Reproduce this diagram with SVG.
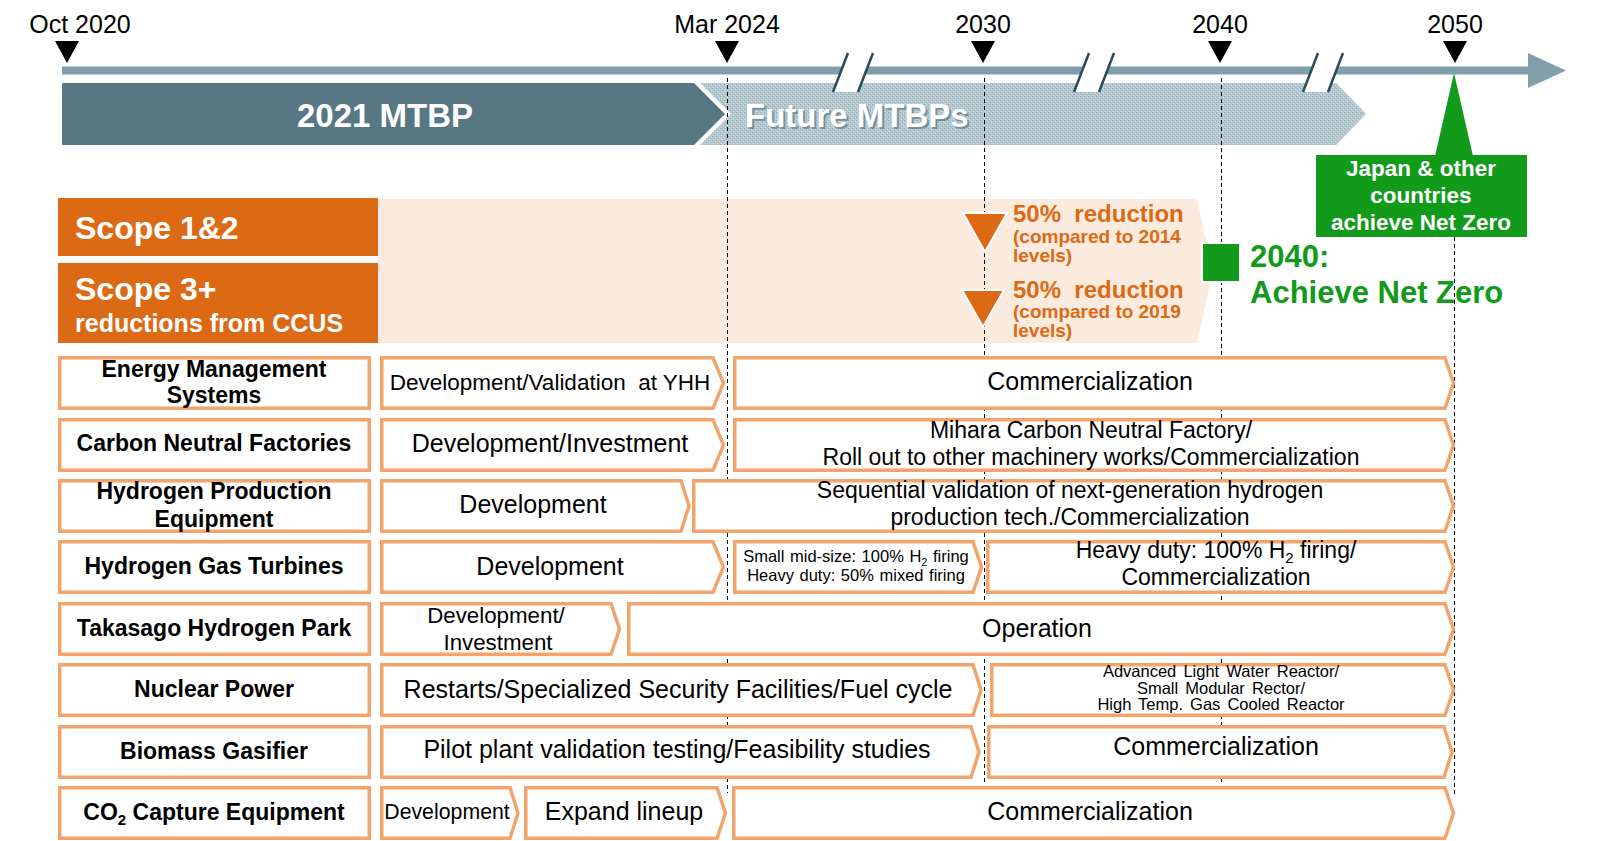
<svg xmlns="http://www.w3.org/2000/svg" width="1601" height="841" viewBox="0 0 1601 841">
<defs>
<pattern id="dots" width="4" height="4" patternUnits="userSpaceOnUse">
<rect width="4" height="4" fill="#B5C8CF"/>
<rect x="0" y="0" width="1" height="1" fill="#95ADB7"/>
<rect x="2" y="2" width="1" height="1" fill="#95ADB7"/>
<rect x="1" y="3" width="1" height="1" fill="#CFDCE1"/>
<rect x="3" y="1" width="1" height="1" fill="#CFDCE1"/>
</pattern>
<style>
text{font-family:"Liberation Sans",Arial,sans-serif;}
.tl{font-size:25px;fill:#000;text-anchor:middle;}
.tri{fill:#000;}
.guide{stroke:#000;stroke-width:1;stroke-dasharray:4 3;fill:none;}
.lab{fill:#fff;stroke:#F2A46C;stroke-width:3.5;}
.chev{fill:#fff;stroke:#F2A46C;stroke-width:3.5;stroke-linejoin:miter;}
.lt{font-size:23px;font-weight:bold;fill:#000;text-anchor:middle;}
.ct{font-size:25px;fill:#000;text-anchor:middle;}
.ct23{font-size:23px;fill:#000;text-anchor:middle;}
.cs{font-size:16.5px;fill:#000;text-anchor:middle;}
.brk{fill:#fff;stroke:none;}
.brkl{stroke:#2C4B57;stroke-width:2.5;}
.org{fill:#DC6A14;}
.ot{fill:#DC6A14;font-weight:bold;}
.grn{fill:#129A1B;}
.gt{fill:#129A1B;font-weight:bold;font-size:31px;}
.wt{fill:#fff;font-weight:bold;}
</style>
</defs>
<rect width="1601" height="841" fill="#fff"/>

<g id="timeline">
<rect x="62" y="66.5" width="1468" height="8" fill="#819FAA"/>
<polygon points="1528,53 1566,70.5 1528,88" fill="#819FAA"/>
</g>

<g id="mtbp-2021">
<polygon points="62,83 694,83 725,114 694,145 62,145" fill="#587784"/>
<text x="385" y="127" class="wt" font-size="33" text-anchor="middle">2021 MTBP</text>
</g>

<g id="mtbp-future">
<polygon points="700,83 1336,83 1366,114 1336,145 700,145 731,114" fill="url(#dots)"/>
<text x="747" y="129" font-size="33" font-weight="bold" fill="#6E8791" opacity="0.85">Future MTBPs</text>
<text x="745" y="127" class="wt" font-size="33">Future MTBPs</text>
</g>

<g id="breaks">
<polygon class="brk" points="848,53 873,53 858,92 833,92"/>
<line class="brkl" x1="848" y1="53" x2="833" y2="92"/>
<line class="brkl" x1="873" y1="53" x2="858" y2="92"/>
<polygon class="brk" points="1089,53 1114,53 1099,92 1074,92"/>
<line class="brkl" x1="1089" y1="53" x2="1074" y2="92"/>
<line class="brkl" x1="1114" y1="53" x2="1099" y2="92"/>
<polygon class="brk" points="1318,53 1343,53 1328,92 1303,92"/>
<line class="brkl" x1="1318" y1="53" x2="1303" y2="92"/>
<line class="brkl" x1="1343" y1="53" x2="1328" y2="92"/>
</g>

<g id="milestones">
<text class="tl" x="80" y="33">Oct 2020</text>
<polygon class="tri" points="55,41 79,41 67,63"/>
<text class="tl" x="727" y="33">Mar 2024</text>
<polygon class="tri" points="715,41 739,41 727,63"/>
<text class="tl" x="983" y="33">2030</text>
<polygon class="tri" points="971,41 995,41 983,63"/>
<text class="tl" x="1220" y="33">2040</text>
<polygon class="tri" points="1208,41 1232,41 1220,63"/>
<text class="tl" x="1455" y="33">2050</text>
<polygon class="tri" points="1443,41 1467,41 1455,63"/>
</g>

<g id="scope-band">
<polygon points="378,199 1197,199 1213,271 1197,343 378,343" fill="#FBEBDF"/>
</g>

<g id="connectors">
<line class="guide" x1="727.5" y1="78" x2="727.5" y2="793"/>
<line class="guide" x1="984.5" y1="78" x2="984.5" y2="783"/>
<line class="guide" x1="1221.5" y1="78" x2="1221.5" y2="783"/>
<line class="guide" x1="1454.5" y1="237" x2="1454.5" y2="797"/>
</g>

<g id="scope12">
<rect x="58" y="198" width="320" height="58" class="org"/>
<text x="75" y="239" class="wt" font-size="32">Scope 1&amp;2</text>
</g>
<g id="scope3">
<rect x="58" y="263" width="320" height="80" class="org"/>
<text x="75" y="300" class="wt" font-size="32">Scope 3+</text>
<text x="75" y="332" class="wt" font-size="25">reductions from CCUS</text>
</g>

<g id="target-2030-scope12">
<polygon points="963,213 1007,213 985,252" class="org" stroke="#fff" stroke-width="2"/>
<text x="1013" y="222" class="ot" font-size="24" xml:space="preserve">50%  reduction</text>
<text x="1013" y="243" class="ot" font-size="19">(compared to 2014</text>
<text x="1013" y="262" class="ot" font-size="19">levels)</text>
</g>
<g id="target-2030-scope3">
<polygon points="962,290 1004,290 983,327" class="org" stroke="#fff" stroke-width="2"/>
<text x="1013" y="298" class="ot" font-size="24" xml:space="preserve">50%  reduction</text>
<text x="1013" y="318" class="ot" font-size="19">(compared to 2019</text>
<text x="1013" y="337" class="ot" font-size="19">levels)</text>
</g>

<g id="target-2040">
<rect x="1202" y="243" width="38" height="39" class="grn" stroke="#fff" stroke-width="2"/>
<text x="1250" y="267" class="gt">2040:</text>
<text x="1250" y="303" class="gt">Achieve Net Zero</text>
</g>

<g id="target-2050">
<polygon points="1454,73 1473,156 1435,156" class="grn"/>
<rect x="1316" y="155" width="211" height="82" class="grn"/>
<text x="1421" y="176" class="wt" font-size="22.5" text-anchor="middle">Japan &amp; other</text>
<text x="1421" y="203" class="wt" font-size="22.5" text-anchor="middle">countries</text>
<text x="1421" y="230" class="wt" font-size="22.5" text-anchor="middle">achieve Net Zero</text>
</g>

<g id="row-ems">
<rect class="lab" x="59.75" y="357.75" width="309.5" height="50.5"/>
<text class="lt" x="214" y="377">Energy Management</text>
<text class="lt" x="214" y="403">Systems</text>
<polygon class="chev" points="381.75,357.75 713,357.75 723.5,383 713,408.25 381.75,408.25"/>
<text class="ct" x="550" y="390" style="font-size:22.5px" xml:space="preserve">Development/Validation  at YHH</text>
<polygon class="chev" points="734.75,357.75 1445,357.75 1453.5,383 1445,408.25 734.75,408.25"/>
<text class="ct" x="1090" y="390">Commercialization</text>
</g>

<g id="row-cnf">
<rect class="lab" x="59.75" y="419.75" width="309.5" height="50.5"/>
<text class="lt" x="214" y="451">Carbon Neutral Factories</text>
<polygon class="chev" points="381.75,419.75 713,419.75 723.5,445 713,470.25 381.75,470.25"/>
<text class="ct" x="550" y="452">Development/Investment</text>
<polygon class="chev" points="734.75,419.75 1445,419.75 1453.5,445 1445,470.25 734.75,470.25"/>
<text class="ct23" x="1091" y="438">Mihara Carbon Neutral Factory/</text>
<text class="ct23" x="1091" y="465">Roll out to other machinery works/Commercialization</text>
</g>

<g id="row-hpe">
<rect class="lab" x="59.75" y="480.75" width="309.5" height="50.5"/>
<text class="lt" x="214" y="499">Hydrogen Production</text>
<text class="lt" x="214" y="527">Equipment</text>
<polygon class="chev" points="381.75,480.75 681,480.75 689,506 681,531.25 381.75,531.25"/>
<text class="ct" x="533" y="513">Development</text>
<polygon class="chev" points="693.75,480.75 1445,480.75 1453.5,506 1445,531.25 693.75,531.25"/>
<text class="ct23" x="1070" y="498">Sequential validation of next-generation hydrogen</text>
<text class="ct23" x="1070" y="525">production tech./Commercialization</text>
</g>

<g id="row-hgt">
<rect class="lab" x="59.75" y="541.75" width="309.5" height="50.5"/>
<text class="lt" x="214" y="574">Hydrogen Gas Turbines</text>
<polygon class="chev" points="381.75,541.75 713,541.75 723.5,567 713,592.25 381.75,592.25"/>
<text class="ct" x="550" y="575">Development</text>
<polygon class="chev" points="734.75,541.75 973,541.75 981.5,567 973,592.25 734.75,592.25"/>
<text class="cs" x="856" y="562" word-spacing="1">Small mid-size: 100% H<tspan font-size="11" dy="4">2</tspan><tspan dy="-4"> firing</tspan></text>
<text class="cs" x="856" y="581" word-spacing="1">Heavy duty: 50% mixed firing</text>
<polygon class="chev" points="987.75,541.75 1445,541.75 1453.5,567 1445,592.25 987.75,592.25"/>
<text class="ct23" x="1216" y="558">Heavy duty: 100% H<tspan font-size="15" dy="5">2</tspan><tspan dy="-5"> firing/</tspan></text>
<text class="ct23" x="1216" y="585">Commercialization</text>
</g>

<g id="row-thp">
<rect class="lab" x="59.75" y="603.75" width="309.5" height="50.5"/>
<text class="lt" x="214" y="636">Takasago Hydrogen Park</text>
<polygon class="chev" points="381.75,603.75 611,603.75 619.5,629 611,654.25 381.75,654.25"/>
<text class="ct" x="496" y="623" style="font-size:22.3px">Development/</text>
<text class="ct" x="498" y="650" style="font-size:22.3px">Investment</text>
<polygon class="chev" points="628.75,603.75 1445,603.75 1453.5,629 1445,654.25 628.75,654.25"/>
<text class="ct" x="1037" y="637">Operation</text>
</g>

<g id="row-nuclear">
<rect class="lab" x="59.75" y="664.75" width="309.5" height="50.5"/>
<text class="lt" x="214" y="697">Nuclear Power</text>
<polygon class="chev" points="381.75,664.75 973,664.75 981,690 973,715.25 381.75,715.25"/>
<text class="ct" x="678" y="698">Restarts/Specialized Security Facilities/Fuel cycle</text>
<polygon class="chev" points="991.75,664.75 1445,664.75 1453.5,690 1445,715.25 991.75,715.25"/>
<text class="cs" x="1221" y="677" word-spacing="2.5">Advanced Light Water Reactor/</text>
<text class="cs" x="1221" y="694" word-spacing="2.5">Small Modular Rector/</text>
<text class="cs" x="1221" y="710" word-spacing="2.5">High Temp. Gas Cooled Reactor</text>
</g>

<g id="row-biomass">
<rect class="lab" x="59.75" y="726.75" width="309.5" height="50.5"/>
<text class="lt" x="214" y="759">Biomass Gasifier</text>
<polygon class="chev" points="381.75,726.75 971,726.75 979,752 971,777.25 381.75,777.25"/>
<text class="ct" x="677" y="758">Pilot plant validation testing/Feasibility studies</text>
<polygon class="chev" points="988.75,726.75 1444,726.75 1452,752 1444,777.25 988.75,777.25"/>
<text class="ct" x="1216" y="755">Commercialization</text>
</g>

<g id="row-co2">
<rect class="lab" x="59.75" y="787.75" width="309.5" height="50.5"/>
<text class="lt" x="214" y="820">CO<tspan font-size="15" dy="5">2</tspan><tspan dy="-5"> Capture Equipment</tspan></text>
<polygon class="chev" points="381.75,787.75 510,787.75 518,813 510,838.25 381.75,838.25"/>
<text class="ct" x="447" y="819" style="font-size:21.3px">Development</text>
<polygon class="chev" points="525.75,787.75 717,787.75 725.5,813 717,838.25 525.75,838.25"/>
<text class="ct" x="624" y="820">Expand lineup</text>
<polygon class="chev" points="733.75,787.75 1445,787.75 1453.5,813 1445,838.25 733.75,838.25"/>
<text class="ct" x="1090" y="820">Commercialization</text>
</g>
</svg>
